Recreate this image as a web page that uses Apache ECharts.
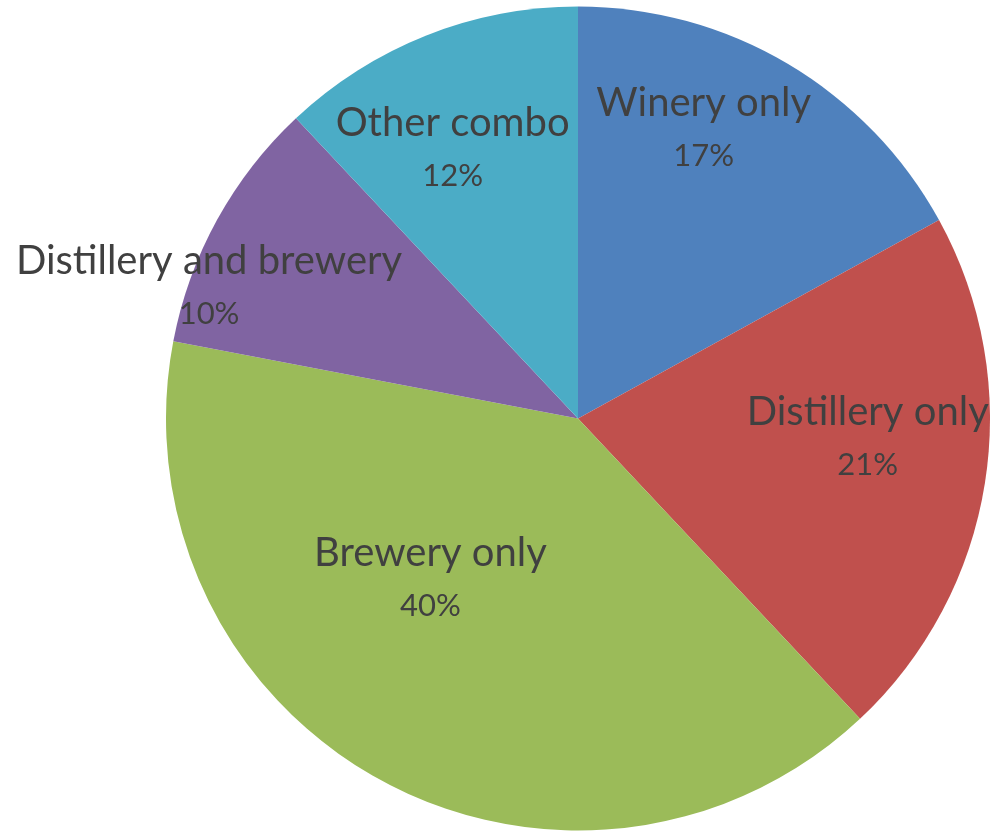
<!DOCTYPE html>
<html><head><meta charset="utf-8">
<script src="https://cdn.jsdelivr.net/npm/echarts@6/dist/echarts.min.js"></script>
<style>html,body{margin:0;padding:0;background:#fff}#c{width:992px;height:832px}</style>
</head><body><div id="c"></div>
<script>
const categories = ['Winery only', 'Distillery only', 'Brewery only', 'Distillery and brewery', 'Other combo'];
const values = [17, 21, 40, 10, 12];
const colors = ['#4F81BD', '#C0504D', '#9BBB59', '#8064A2', '#4BACC6'];
// label placement: [radius fraction, angle from top in degrees (clockwise)]
const labelPlacement = [[0.765, 23.5], [0.705, 94], [0.53, 222.5], [0.95, 289.5], [0.72, 335]];

const CX = 578, CY = 418.5, R = 412;
const chart = echarts.init(document.getElementById('c'), null, {renderer: 'canvas'});
const total = values.reduce((a, b) => a + b, 0);
chart.setOption({
  animation: false,
  series: [{
    type: 'pie',
    center: [CX, CY],
    radius: [0, R],
    startAngle: 90,
    clockwise: true,
    avoidLabelOverlap: false,
    itemStyle: {borderWidth: 0},
    label: {
      show: true,
      position: 'inside',
      formatter: p => '{n|' + p.name + '}\n{p|' + Math.round(p.value / total * 100) + '%}',
      color: '#404040',
      fontFamily: 'Lato',
      align: 'center',
      rich: {
        n: {fontFamily: 'Lato', fontSize: 40, lineHeight: 53, color: '#404040', align: 'center'},
        p: {fontFamily: 'Lato', fontSize: 31, lineHeight: 53, color: '#404040', align: 'center'}
      }
    },
    labelLine: {show: false},
    labelLayout: function (params) {
      const pl = labelPlacement[params.dataIndex];
      const a = pl[1] * Math.PI / 180;
      return {
        x: CX + pl[0] * R * Math.sin(a),
        y: CY - pl[0] * R * Math.cos(a),
        align: 'center',
        verticalAlign: 'middle'
      };
    },
    data: categories.map((n, i) => ({name: n, value: values[i], itemStyle: {color: colors[i]}}))
  }]
});
</script></body></html>
